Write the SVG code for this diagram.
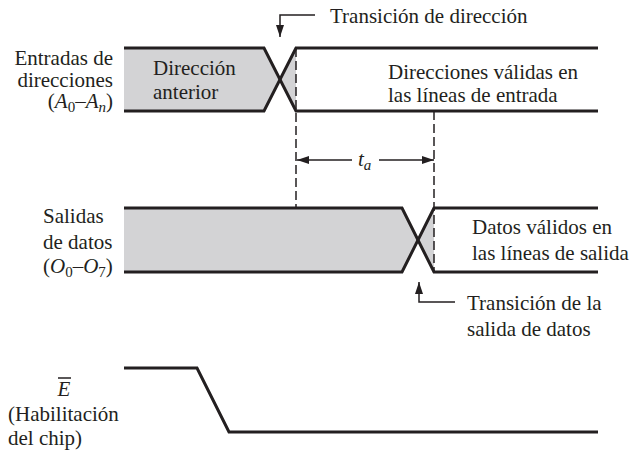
<svg xmlns="http://www.w3.org/2000/svg" width="632" height="450" viewBox="0 0 632 450">
<style>
text{font-family:'Liberation Serif','DejaVu Serif',serif;font-size:21px;fill:#231f20}
.it{font-style:italic}
.sig{fill:none;stroke:#231f20;stroke-width:3;stroke-linejoin:miter}
.fill{fill:#d3d3d5;stroke:none}
.dash{fill:none;stroke:#231f20;stroke-width:1.5;stroke-dasharray:9 4}
.thin{fill:none;stroke:#231f20;stroke-width:1.5}
</style>
<defs>
<marker id="ah" viewBox="0 0 12 8" refX="12" refY="4" markerWidth="12" markerHeight="8" markerUnits="userSpaceOnUse" orient="auto">
<path d="M0,0 L12,4 L0,8 Z" fill="#231f20"/>
</marker>
</defs>
<g id="address-bus" font-family="Liberation Serif, serif">
<polygon class="fill" points="124,48 264,48 280,79.5 264,111 124,111"/>
<polygon class="fill" points="280,79.5 296,48 296,111"/>
<polyline class="sig" points="124,48 264,48 296,111 598,111"/>
<polyline class="sig" points="124,111 264,111 296,48 598,48"/>
<text x="113" y="65" text-anchor="end">Entradas de</text>
<text x="113" y="87" text-anchor="end">direcciones</text>
<text x="113" y="108" text-anchor="end">(<tspan class="it">A</tspan><tspan font-size="15" dy="4">0</tspan><tspan dy="-4">–</tspan><tspan class="it">A</tspan><tspan class="it" font-size="15" dy="4">n</tspan><tspan dy="-4">)</tspan></text>
<text x="153" y="75">Dirección</text>
<text x="153" y="99">anterior</text>
<text x="388" y="79">Direcciones válidas en</text>
<text x="388" y="102">las líneas de entrada</text>
</g>
<g id="data-bus" font-family="Liberation Serif, serif">
<polygon class="fill" points="124,208 402,208 418,240 402,272 124,272"/>
<polygon class="fill" points="418,240 434,208 434,272"/>
<polyline class="sig" points="124,208 402,208 434,272 598,272"/>
<polyline class="sig" points="124,272 402,272 434,208 598,208"/>
<text x="43" y="223">Salidas</text>
<text x="43" y="249">de datos</text>
<text x="43" y="273">(<tspan class="it">O</tspan><tspan font-size="15" dy="4">0</tspan><tspan dy="-4">–</tspan><tspan class="it">O</tspan><tspan font-size="15" dy="4">7</tspan><tspan dy="-4">)</tspan></text>
<text x="472" y="234">Datos válidos en</text>
<text x="472" y="260">las líneas de salida</text>
</g>
<g id="chip-enable" font-family="Liberation Serif, serif">
<polyline class="sig" points="124,368 197,368 229,432 598,432"/>
<text x="64" y="396" text-anchor="middle" class="it">E</text>
<line class="thin" x1="58" y1="378" x2="71" y2="378"/>
<text x="8" y="421">(Habilitación</text>
<text x="8" y="445">del chip)</text>
</g>
<g id="connectors">
<line class="dash" x1="296" y1="48" x2="296" y2="208"/>
<line class="dash" x1="434" y1="111" x2="434" y2="272"/>
<line class="thin" x1="352" y1="160" x2="297" y2="160" marker-end="url(#ah)"/>
<line class="thin" x1="379" y1="160" x2="434" y2="160" marker-end="url(#ah)"/>
<polyline class="thin" points="315,15 280,15 280,37" marker-end="url(#ah)"/>
<polyline class="thin" points="455,302 419,302 419,282" marker-end="url(#ah)"/>
</g>
<g id="labels" font-family="Liberation Serif, serif">
<text x="358" y="166" class="it">t<tspan font-size="15" dy="4">a</tspan></text>
<text x="330" y="23">Transición de dirección</text>
<text x="467" y="310">Transición de la</text>
<text x="467" y="336">salida de datos</text>
</g>
</svg>
